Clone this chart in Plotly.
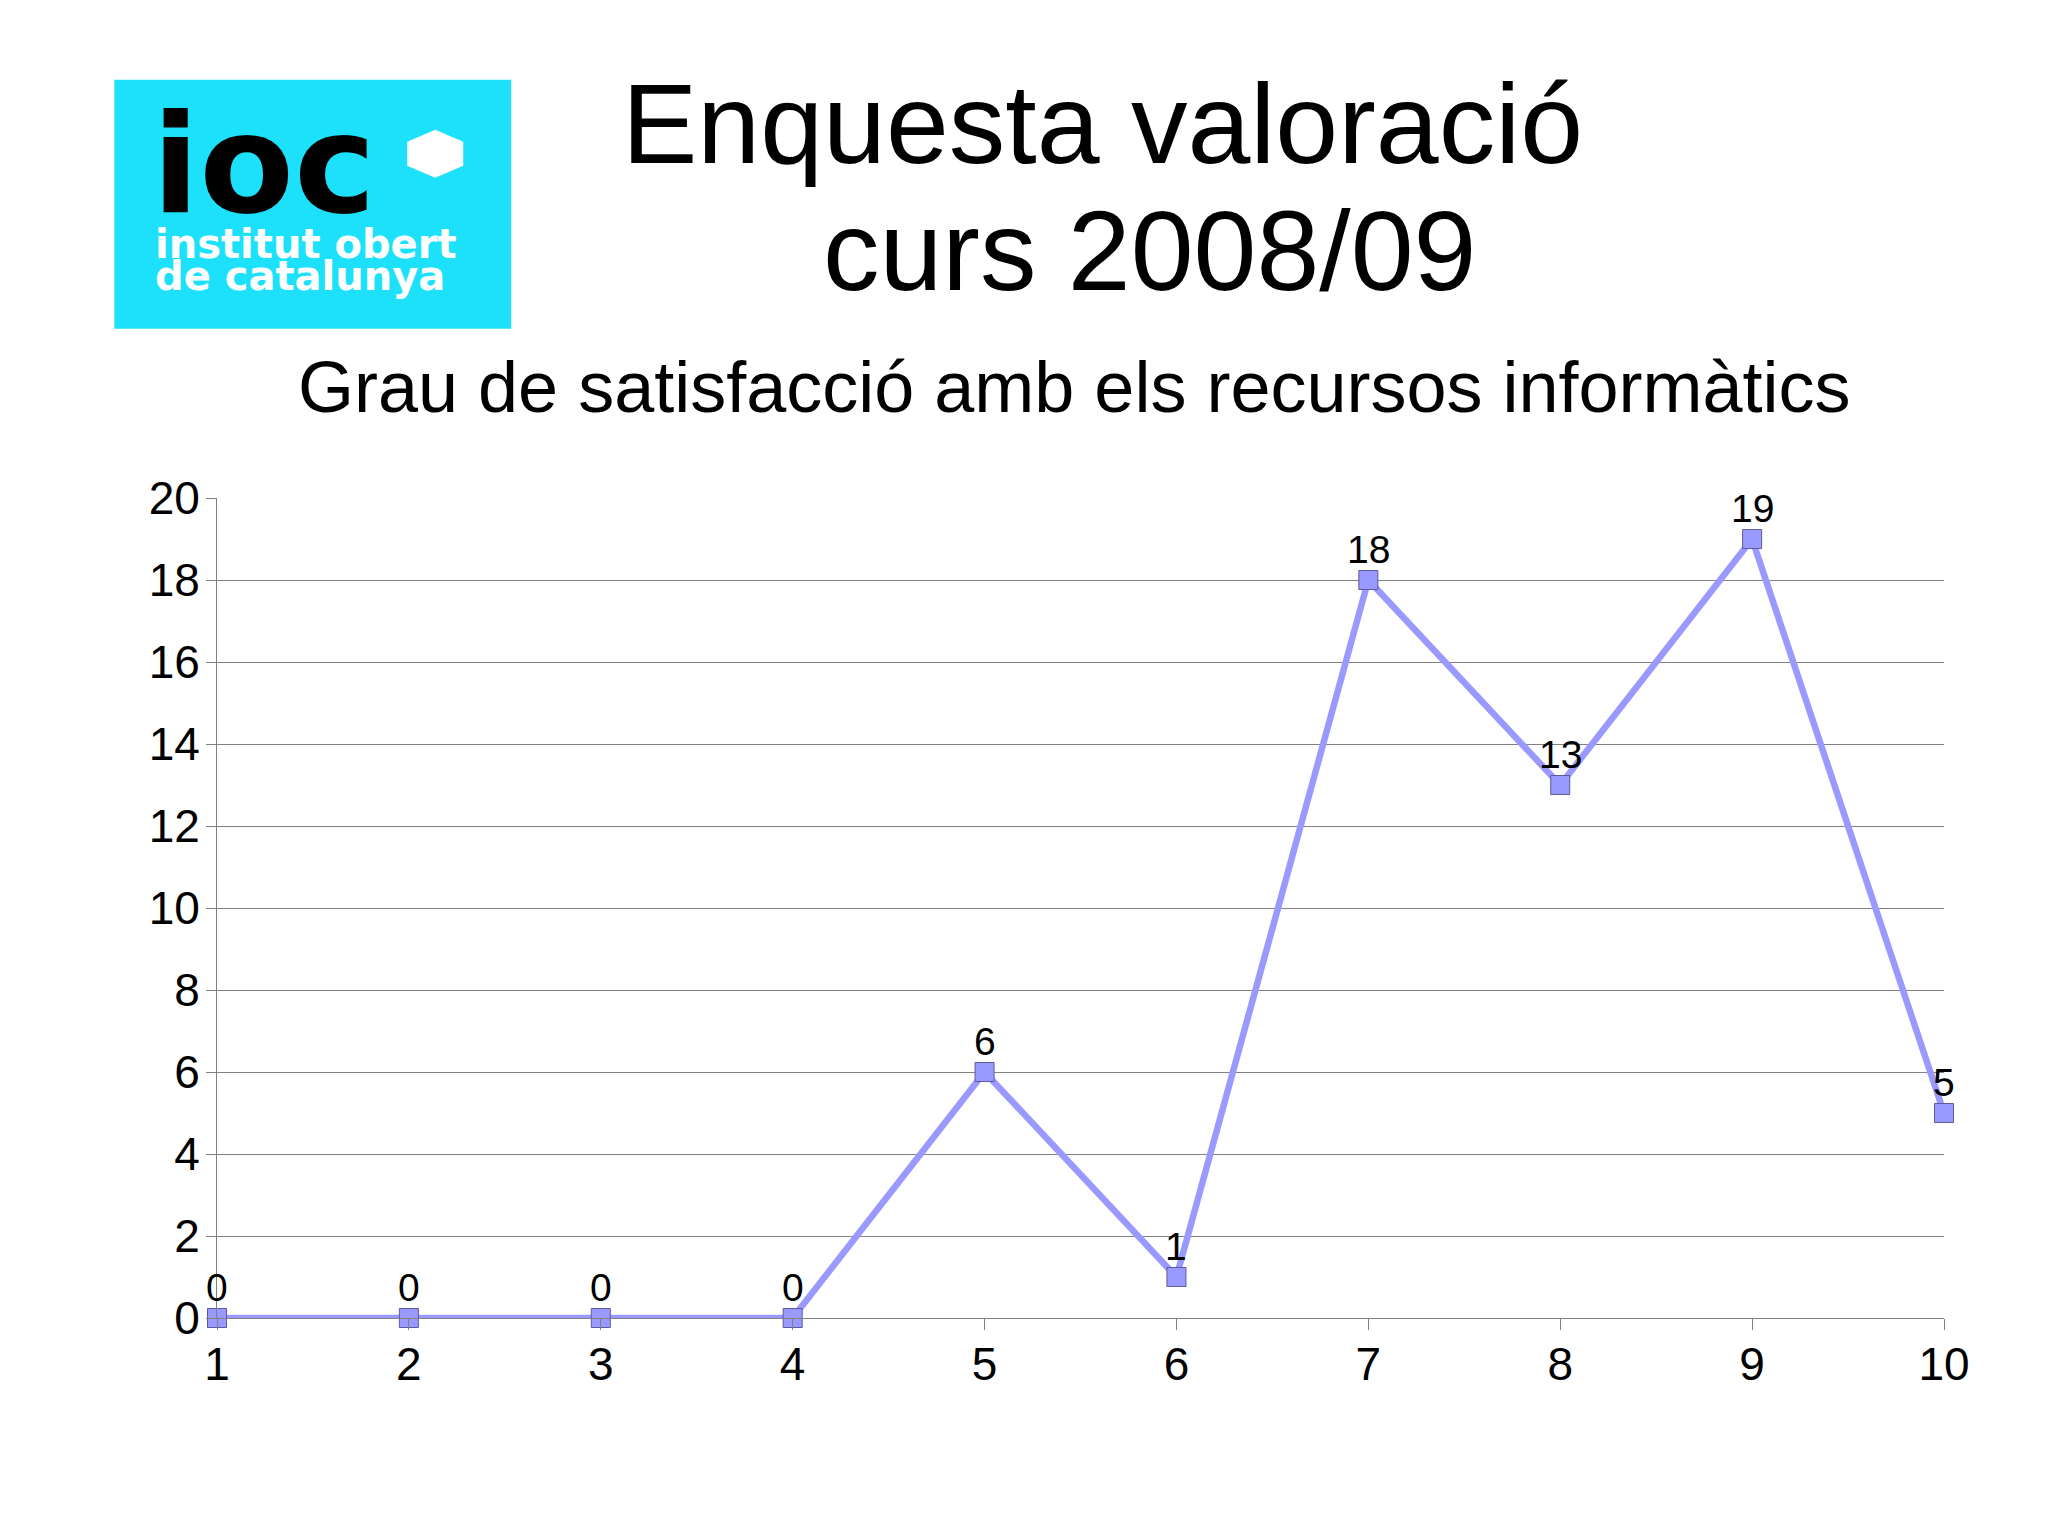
import plotly.graph_objects as go

# Data
categories = [1, 2, 3, 4, 5, 6, 7, 8, 9, 10]
values = [0, 0, 0, 0, 6, 1, 18, 13, 19, 5]
y_ticks = [0, 2, 4, 6, 8, 10, 12, 14, 16, 18, 20]

title_line1 = "Enquesta valoració"
title_line2 = "curs 2008/09"
subtitle = "Grau de satisfacció amb els recursos informàtics"
logo_big = "ioc"
logo_line1 = "institut obert"
logo_line2 = "de catalunya"

OFF = 8  # default page body margin
FW, FH = 2048 - OFF, 1535 - OFF
# plot area in page pixels
PX0, PX1, PY0, PY1 = 216.7, 1944.3, 498.3, 1318.3
L = PX0 - OFF
T = PY0 - OFF
R = FW - (PX1 - OFF)
B = FH - (PY1 - OFF)
PW, PH = PX1 - PX0, PY1 - PY0


def px(x):
    return (x - PX0) / PW


def py(y):
    return 1 - (y - PY0) / PH


FONT = "Liberation Sans, Arial, sans-serif"

fig = go.Figure()
fig.add_trace(go.Scatter(
    x=categories, y=values,
    mode="lines+markers",
    line=dict(color="#9999ff", width=6.5),
    marker=dict(symbol="square", size=19, color="#9999ff",
                line=dict(color="#5a5a9e", width=1)),
    cliponaxis=False,
    showlegend=False,
))

shapes = []
# logo background
shapes.append(dict(type="rect", xref="paper", yref="paper",
                   x0=px(114), x1=px(511), y0=py(80), y1=py(329),
                   fillcolor="#1de1fb", line=dict(width=0), layer="above"))
# hexagon
cx, cy, hw, hh = 435, 154, 28, 24
pts = [(cx, cy - hh), (cx + hw, cy - hh / 2), (cx + hw, cy + hh / 2),
       (cx, cy + hh), (cx - hw, cy + hh / 2), (cx - hw, cy - hh / 2)]
path = "M " + " L ".join(f"{px(a):.5f},{py(b):.5f}" for a, b in pts) + " Z"
shapes.append(dict(type="path", xref="paper", yref="paper", path=path,
                   fillcolor="white", line=dict(width=0), layer="above"))

annotations = [
    dict(text=logo_big, x=px(150), y=py(165), xanchor="left", yanchor="middle",
         font=dict(size=138, color="black", family="DejaVu Sans", weight="bold"),
         showarrow=False, xref="paper", yref="paper"),
    dict(text=logo_line1, x=px(153), y=py(244), xanchor="left", yanchor="middle",
         font=dict(size=40, color="white", family="DejaVu Sans", weight="bold"),
         showarrow=False, xref="paper", yref="paper"),
    dict(text=logo_line2, x=px(153), y=py(276), xanchor="left", yanchor="middle",
         font=dict(size=40, color="white", family="DejaVu Sans", weight="bold"),
         showarrow=False, xref="paper", yref="paper"),
    dict(text=title_line1, x=px(1103), y=py(124), xanchor="center", yanchor="middle",
         font=dict(size=113, color="black", family=FONT),
         showarrow=False, xref="paper", yref="paper"),
    dict(text=title_line2, x=px(1150), y=py(251), xanchor="center", yanchor="middle",
         font=dict(size=113, color="black", family=FONT),
         showarrow=False, xref="paper", yref="paper"),
    dict(text=subtitle, x=px(1074), y=py(387), xanchor="center", yanchor="middle",
         font=dict(size=72, color="black", family=FONT),
         showarrow=False, xref="paper", yref="paper"),
]

# data labels
for c, v in zip(categories, values):
    annotations.append(dict(
        text=str(v), x=c, y=v, xref="x", yref="y",
        xanchor="center", yanchor="bottom", yshift=7,
        showarrow=False,
        font=dict(size=39, color="black", family=FONT)))

fig.update_layout(
    width=FW, height=FH,
    margin=dict(l=L, r=R, t=T, b=B, pad=0),
    paper_bgcolor="white", plot_bgcolor="white",
    font=dict(family=FONT, color="black"),
    shapes=shapes, annotations=annotations,
    xaxis=dict(range=[1, 10], tickvals=categories, showgrid=False,
               showline=True, linecolor="#808080", linewidth=1,
               ticks="outside", ticklen=11, tickcolor="#808080",
               tickfont=dict(size=46, family=FONT, color="black"),
               ticklabelstandoff=-5,
               zeroline=False, fixedrange=True),
    yaxis=dict(range=[0, 20], tickvals=y_ticks, showgrid=True,
               gridcolor="#808080", gridwidth=1,
               showline=True, linecolor="#808080", linewidth=1,
               ticks="outside", ticklen=10, tickcolor="#808080",
               tickfont=dict(size=46, family=FONT, color="black"),
               ticklabelstandoff=-3,
               zeroline=False, fixedrange=True),
)

fig.write_html("out.html")
